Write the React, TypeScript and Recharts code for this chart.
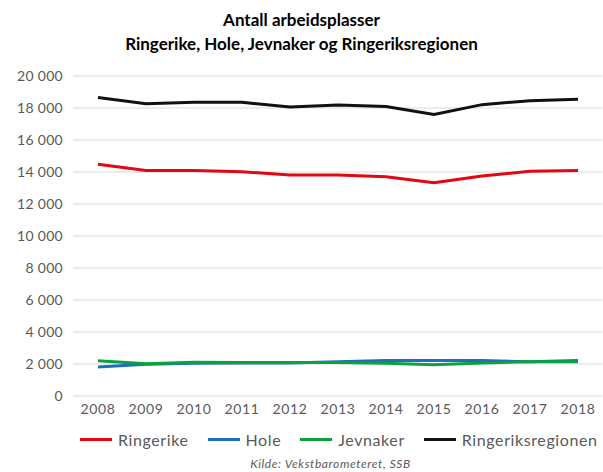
import React from 'react';
import { LineChart, Line, XAxis, YAxis, CartesianGrid } from 'recharts';

const years = ['2008', '2009', '2010', '2011', '2012', '2013', '2014', '2015', '2016', '2017', '2018'];
const ringerike = [14480, 14100, 14100, 14020, 13810, 13810, 13700, 13330, 13750, 14040, 14100];
const hole = [1810, 1990, 2040, 2060, 2070, 2140, 2220, 2220, 2220, 2140, 2220];
const jevnaker = [2200, 2020, 2110, 2100, 2100, 2090, 2040, 1960, 2060, 2140, 2140];
const ringeriksregionen = [18650, 18270, 18360, 18360, 18060, 18190, 18100, 17600, 18210, 18460, 18550];
const yTicks = [0, 2000, 4000, 6000, 8000, 10000, 12000, 14000, 16000, 18000, 20000];

const series = [
  { key: 'Ringerike', values: ringerike, color: '#e30613' },
  { key: 'Hole', values: hole, color: '#1f6dbc' },
  { key: 'Jevnaker', values: jevnaker, color: '#0aa23c' },
  { key: 'Ringeriksregionen', values: ringeriksregionen, color: '#111111' },
];

const data = years.map((year, i) => {
  const row: Record<string, string | number> = { year };
  series.forEach((s) => {
    row[s.key] = s.values[i];
  });
  return row;
});

const font = 'Lato, "Open Sans", sans-serif';
const textGrey = '#595959';

const formatThousands = (v: number) =>
  v === 0 ? '0' : `${Math.floor(v / 1000)} ${String(v % 1000).padStart(3, '0')}`;

export default function App() {
  return (
    <div
      style={{
        position: 'absolute',
        left: 0,
        top: 0,
        width: 603,
        height: 472,
        background: '#fff',
        fontFamily: font,
      }}
    >
      <div
        style={{
          position: 'absolute',
          top: 8,
          left: 0,
          width: 603,
          textAlign: 'center',
          fontWeight: 700,
          fontSize: 17,
          lineHeight: '24px',
          color: '#000',
        }}
      >
        Antall arbeidsplasser
        <br />
        Ringerike, Hole, Jevnaker og Ringeriksregionen
      </div>
      <LineChart width={603} height={472} data={data} margin={{ top: 76, right: 1, left: 0, bottom: 46 }}>
        <CartesianGrid vertical={false} stroke="#d9d9d9" strokeWidth={1} />
        <XAxis
          dataKey="year"
          axisLine={false}
          tickLine={false}
          height={30}
          padding={{ left: 25, right: 24 }}
          tick={{ fill: textGrey, fontSize: 14, fontFamily: font, letterSpacing: 0.6 }}
          interval={0}
        />
        <YAxis
          width={73}
          domain={[0, 20000]}
          ticks={yTicks}
          axisLine={false}
          tickLine={false}
          tickMargin={4}
          tickFormatter={formatThousands}
          tick={{ fill: textGrey, fontSize: 14, fontFamily: font, letterSpacing: 0.3 }}
        />
        {series.map((s) => (
          <Line
            key={s.key}
            type="linear"
            dataKey={s.key}
            stroke={s.color}
            strokeWidth={3}
            dot={false}
            isAnimationActive={false}
          />
        ))}
      </LineChart>
      <div
        style={{
          position: 'absolute',
          top: 430,
          left: 80,
          display: 'flex',
          alignItems: 'center',
          gap: 19,
          fontSize: 16,
          letterSpacing: 0.6,
          color: textGrey,
          whiteSpace: 'nowrap',
        }}
      >
        {series.map((s) => (
          <div key={s.key} style={{ display: 'flex', alignItems: 'center', gap: 6 }}>
            <span style={{ display: 'inline-block', width: 32, height: 3, background: s.color }} />
            <span>{s.key}</span>
          </div>
        ))}
      </div>
      <div
        style={{
          position: 'absolute',
          top: 456,
          left: 0,
          width: 603,
          paddingLeft: 58,
          boxSizing: 'border-box',
          textAlign: 'center',
          fontStyle: 'italic',
          fontSize: 12,
          letterSpacing: 0.6,
          color: textGrey,
        }}
      >
        Kilde: Vekstbarometeret, SSB
      </div>
    </div>
  );
}
